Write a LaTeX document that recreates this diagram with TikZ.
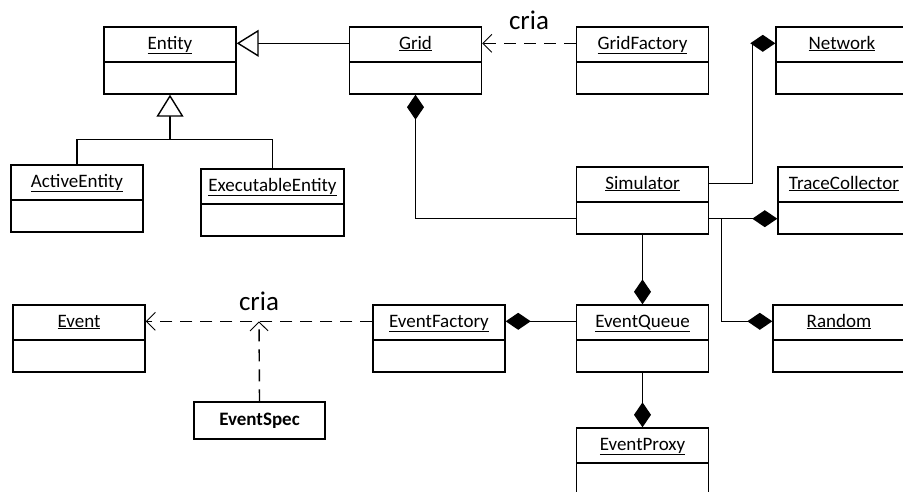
\documentclass[tikz,border=0pt]{standalone}
\usepackage{fontspec}
\setmainfont{Carlito}
\usetikzlibrary{arrows.meta,calc}
\tikzset{
  cls/.style={draw, line width=1.4pt, minimum width=132pt, inner ysep=0pt,
    text height=22pt, text depth=45pt, font=\fontsize{19}{22}\selectfont,
    path picture={\draw[line width=1.4pt]
      ([yshift=-35pt]path picture bounding box.north west) --
      ([yshift=-35pt]path picture bounding box.north east);}},
  specbox/.style={draw, line width=1.4pt, minimum width=131pt, minimum height=37pt,
    font=\fontsize{19}{22}\selectfont\bfseries},
  assoc/.style={line width=1.4pt},
  gen/.style={assoc, -{Triangle[open,length=22pt,width=27pt,fill=white]}},
  compo/.style={assoc, -{Diamond[length=25pt,width=17pt]}},
  dep/.style={line width=1.4pt, dash pattern=on 12pt off 8pt,
    -{Straight Barb[length=9pt,width=18pt,line width=0.9pt]}},
  lbl/.style={font=\fontsize{27}{30}\selectfont, anchor=base}
}

\begin{document}
\begin{tikzpicture}[x=1pt,y=-1pt]
  \clip (0,0) rectangle (903,491);
  % classes
  \node[cls] (Entity) at (170,60.5) {\underline{Entity}};
  \node[cls] (Grid) at (415.5,60.5) {\underline{Grid}};
  \node[cls] (GridFactory) at (642.5,60.5) {\underline{GridFactory}};
  \node[cls] (Network) at (842,60.5) {\underline{Network}};
  \node[cls] (ActiveEntity) at (77,198.5) {\underline{ActiveEntity}};
  \node[cls,minimum width=143pt] (ExecutableEntity) at (272.5,202.5) {\underline{ExecutableEntity}};
  \node[cls] (Simulator) at (642.5,200.5) {\underline{Simulator}};
  \node[cls] (TraceCollector) at (844,200.5) {\underline{TraceCollector}};
  \node[cls] (Event) at (79,338.5) {\underline{Event}};
  \node[cls] (EventFactory) at (439,338.5) {\underline{EventFactory}};
  \node[cls] (EventQueue) at (642.5,338.5) {\underline{EventQueue}};
  \node[cls] (Random) at (839,338.5) {\underline{Random}};
  \node[cls] (EventProxy) at (642.5,461.5) {\underline{EventProxy}};
  \node[specbox] (EventSpec) at (259.5,420.5) {EventSpec};
  % inheritance
  \draw[gen] ([yshift=-17pt]Grid.north west) -- ([yshift=-17pt]Entity.north east);
  \coordinate (inh) at ([yshift=-45pt]Entity.south);
  \draw[assoc] (ActiveEntity.north) |- (inh) -| (ExecutableEntity.north);
  \draw[gen] (inh) -- (Entity.south);
  % creation
  \draw[dep] ([yshift=-17pt]GridFactory.north west) --
    node[lbl,yshift=14pt] (cria1) {cria} ([yshift=-17pt]Grid.north east);
  \draw[dep] ([yshift=-17pt]EventFactory.north west) -- coordinate[midway] (evmid)
    node[lbl,yshift=11pt] (cria2) {cria} ([yshift=-17pt]Event.north east);
  \draw[dep] (EventSpec.north) -- (evmid);
  % composition
  \draw[compo] ([yshift=16pt]Simulator.south west) -| (Grid.south);
  \draw[compo] ([yshift=-17pt]Simulator.north east) -- ++(43,0) |- ([yshift=-17pt]Network.north west);
  \draw[compo] ([yshift=16pt]Simulator.south east) -- ([yshift=16pt]TraceCollector.south west);
  \draw[compo] ([xshift=12pt,yshift=16pt]Simulator.south east) |- ([yshift=-17pt]Random.north west);
  \draw[compo] (Simulator.south) -- (EventQueue.north);
  \draw[compo] ([yshift=-17pt]EventQueue.north west) -- ([yshift=-17pt]EventFactory.north east);
  \draw[compo] (EventQueue.south) -- (EventProxy.north);
\end{tikzpicture}
\end{document}
